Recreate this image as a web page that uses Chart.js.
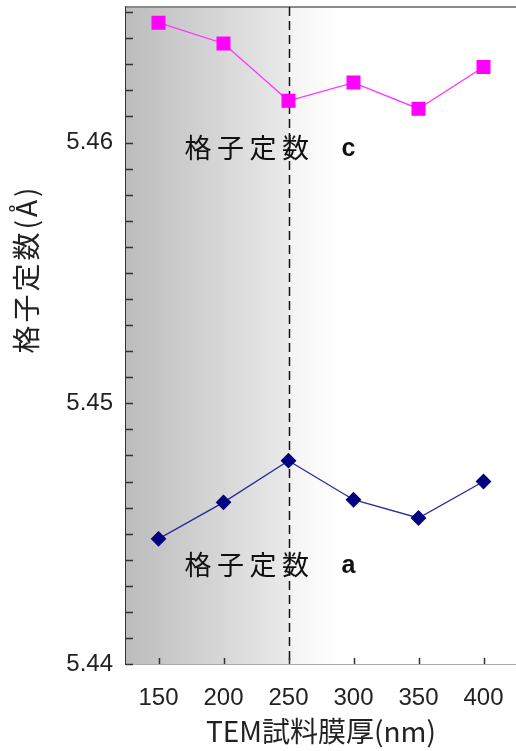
<!DOCTYPE html>
<html>
<head>
<meta charset="utf-8">
<script src="https://cdn.jsdelivr.net/npm/chart.js@4/dist/chart.umd.min.js"></script>
<style>
  html, body { margin: 0; padding: 0; background: #ffffff; }
  #wrap { width: 516px; height: 751px; position: relative; }
</style>
</head>
<body>
<div id="wrap"><canvas id="c" width="516" height="751"></canvas></div>
<script>
// ---- data ----
const thickness = [150, 200, 250, 300, 350, 400];
const latticeC = [5.4646, 5.4638, 5.4616, 5.4623, 5.4613, 5.4629];
const latticeA = [5.4448, 5.4462, 5.4478, 5.4463, 5.4456, 5.4470];
const xTickValues = [150, 200, 250, 300, 350, 400];
const yLabelValues = [5.44, 5.45, 5.46];
const yMinorStep = 0.001;
const xTitle = 'TEM試料膜厚(nm)';
const yTitle = '格子定数(Å)';
const labelC = ['格子定数', 'c'];
const labelA = ['格子定数', 'a'];
const markerX = 250;

const X_MIN = 125, X_MAX = 425, Y_MIN = 5.44, Y_MAX = 5.4652;
const CJK = '"Noto Sans CJK JP", "Noto Sans", sans-serif';
const NUM = '"Liberation Sans", Arial, sans-serif';

const decorPlugin = {
  id: 'decor',
  beforeDatasetsDraw(chart) {
    const {ctx, chartArea: a, scales: {x}} = chart;
    ctx.save();
    const px = Math.round(x.getPixelForValue(markerX)) + 0.5;
    const g1 = ctx.createLinearGradient(a.left, 0, px, 0);
    g1.addColorStop(0, '#bcbcbc');
    g1.addColorStop(1, '#eaeaea');
    ctx.fillStyle = g1;
    ctx.fillRect(a.left, a.top, px - a.left, a.bottom - a.top);
    const g2 = ctx.createLinearGradient(px, 0, px + 50, 0);
    g2.addColorStop(0, '#f4f4f4');
    g2.addColorStop(1, '#ffffff');
    ctx.fillStyle = g2;
    ctx.fillRect(px, a.top, a.right - px, a.bottom - a.top);
    // top border
    ctx.strokeStyle = '#8a8a8a';
    ctx.lineWidth = 2;
    ctx.beginPath(); ctx.moveTo(a.left, a.top); ctx.lineTo(a.right, a.top); ctx.stroke();
    // dashed marker line
    ctx.strokeStyle = '#111';
    ctx.lineWidth = 1.5;
    ctx.setLineDash([9, 5]);
    ctx.beginPath(); ctx.moveTo(px, a.top); ctx.lineTo(px, a.bottom); ctx.stroke();
    ctx.restore();
  },
  afterDatasetsDraw(chart) {
    const {ctx, scales: {x, y}} = chart;
    ctx.save();
    const drawLabel = (parts, xv, yv) => {
      let px = x.getPixelForValue(xv);
      const py = y.getPixelForValue(yv);
      ctx.fillStyle = '#111';
      ctx.textBaseline = 'middle';
      ctx.textAlign = 'left';
      ctx.font = '27px ' + CJK;
      for (const ch of parts[0]) {
        ctx.fillText(ch, px, py);
        px += 32.5;
      }
      ctx.font = 'bold 25px ' + NUM;
      ctx.fillText(parts[1], x.getPixelForValue(xv) + 157, py + 1);
    };
    drawLabel(labelC, 170, 5.4598);
    drawLabel(labelA, 170, 5.4438);
    ctx.restore();
  },
  afterDraw(chart) {
    const {ctx, chartArea: a, scales: {x, y}} = chart;
    ctx.save();
    ctx.strokeStyle = '#333';
    ctx.lineWidth = 1.5;
    y.ticks.forEach(t => {
      const py = Math.round(y.getPixelForValue(t.value)) + 0.5;
      ctx.beginPath(); ctx.moveTo(a.left, py); ctx.lineTo(a.left + 7, py); ctx.stroke();
    });
    x.ticks.forEach(t => {
      const px = Math.round(x.getPixelForValue(t.value)) + 0.5;
      ctx.beginPath(); ctx.moveTo(px, a.bottom); ctx.lineTo(px, a.bottom - 6); ctx.stroke();
    });
    // y axis title (rotated)
    ctx.translate(26, 269);
    ctx.rotate(-Math.PI / 2);
    ctx.fillStyle = '#222';
    ctx.font = '28px ' + CJK;
    ctx.letterSpacing = '3px';
    ctx.textAlign = 'center';
    ctx.textBaseline = 'middle';
    ctx.fillText(yTitle, 0, 0);
    ctx.restore();
  }
};

new Chart(document.getElementById('c'), {
  type: 'line',
  data: {
    datasets: [
      {
        label: 'c',
        data: thickness.map((t, i) => ({x: t, y: latticeC[i]})),
        borderColor: '#ff33ff',
        backgroundColor: '#ff00ff',
        pointBackgroundColor: '#ff00ff',
        pointBorderColor: '#ff00ff',
        pointStyle: 'rect',
        pointRadius: 9,
        borderWidth: 1.3,
        tension: 0
      },
      {
        label: 'a',
        data: thickness.map((t, i) => ({x: t, y: latticeA[i]})),
        borderColor: '#2a2a9a',
        backgroundColor: '#000080',
        pointBackgroundColor: '#000080',
        pointBorderColor: '#000080',
        pointStyle: 'rectRot',
        pointRadius: 7,
        borderWidth: 1.3,
        tension: 0
      }
    ]
  },
  options: {
    responsive: false,
    animation: false,
    devicePixelRatio: 1,
    layout: { autoPadding: false, padding: { top: 7, right: 0, left: 0, bottom: 0 } },
    plugins: { legend: { display: false }, tooltip: { enabled: false } },
    scales: {
      x: {
        type: 'linear',
        min: X_MIN, max: X_MAX,
        afterBuildTicks: s => { s.ticks = xTickValues.map(v => ({value: v})); },
        afterFit: s => { s.height = 87; s.paddingLeft = 0; s.paddingRight = 0; },
        grid: { drawOnChartArea: false, drawTicks: false },
        border: { display: true, color: '#555', width: 1.5 },
        ticks: {
          autoSkip: false, maxRotation: 0, padding: 20,
          color: '#222', font: { family: NUM, size: 24 },
          callback: v => String(v)
        },
        title: {
          display: true, text: xTitle, color: '#222',
          font: { family: CJK, size: 28 }, padding: { top: 0, bottom: 3 }
        }
      },
      y: {
        type: 'linear',
        min: Y_MIN, max: Y_MAX,
        afterBuildTicks: s => {
          const arr = [];
          for (let k = 0; Y_MIN + k * yMinorStep <= Y_MAX + 1e-9; k++) {
            arr.push({value: +(Y_MIN + k * yMinorStep).toFixed(3)});
          }
          s.ticks = arr;
        },
        afterFit: s => { s.width = 126; s.paddingTop = 0; s.paddingBottom = 0; },
        grid: { drawOnChartArea: false, drawTicks: false },
        border: { display: true, color: '#333', width: 2 },
        ticks: {
          autoSkip: false, padding: 13,
          color: '#222', font: { family: NUM, size: 24 },
          callback: v => yLabelValues.some(l => Math.abs(l - v) < 1e-7) ? v.toFixed(2) : ''
        },
        title: { display: false }
      }
    }
  },
  plugins: [decorPlugin]
});
</script>
</body>
</html>
